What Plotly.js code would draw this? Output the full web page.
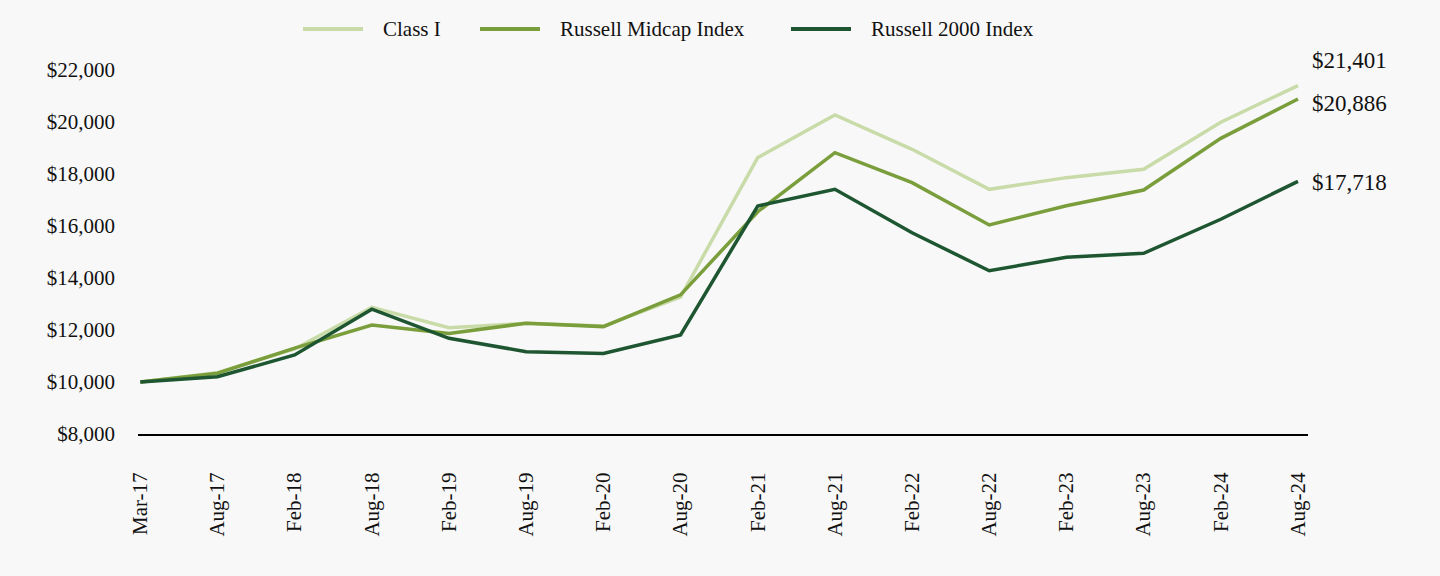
<!DOCTYPE html>
<html>
<head>
<meta charset="utf-8">
<script src="https://cdn.plot.ly/plotly-3.0.1.min.js"></script>
<style>html,body{margin:0;padding:0;background:#f8f8f8;}#chart{width:1440px;height:576px;}</style>
</head>
<body>
<div id="chart"></div>
<script>
const categories = ["Mar-17","Aug-17","Feb-18","Aug-18","Feb-19","Aug-19","Feb-20","Aug-20","Feb-21","Aug-21","Feb-22","Aug-22","Feb-23","Aug-23","Feb-24","Aug-24"];
const classI = [10000,10360,11270,12870,12090,12260,12150,13270,18630,20270,18950,17410,17860,18180,19990,21401];
const midcap = [10000,10340,11300,12190,11870,12260,12130,13350,16550,18820,17665,16040,16780,17385,19370,20886];
const r2000  = [10000,10200,11040,12800,11680,11165,11100,11810,16770,17410,15740,14280,14800,14950,16260,17718];
const seriesNames = ["Class I","Russell Midcap Index","Russell 2000 Index"];
const endLabels = ["$21,401","$20,886","$17,718"];
const colors = ["#c9dba8","#7a9e3b","#1e5631"];
const yTicks = [8000,10000,12000,14000,16000,18000,20000,22000];

const font = "Liberation Serif, Times New Roman, serif";
const allSeries = [classI, midcap, r2000];
const traces = allSeries.map((s,i)=>({
  type:"scatter", mode:"lines", x:categories, y:s, name:seriesNames[i],
  line:{color:colors[i], width:3.5}, hoverinfo:"skip", showlegend:false
}));
const yshifts = [25,-5,-1];
const annotations = allSeries.map((s,i)=>({
  x:categories[categories.length-1], y:s[s.length-1], xref:"x", yref:"y",
  text:endLabels[i], showarrow:false, xanchor:"left", yanchor:"middle",
  xshift:12, yshift:yshifts[i], font:{family:font, size:23, color:"#111"}
}));

// Manual legend (plot area: left 138px, width 1170px; top 70px, height 364px)
const L = 138, W = 1170, T = 70, H = 364;
const px = v => (v - L) / W;
const py = v => (T + H - v) / H;
const legendLineStart = [303, 480, 791];
const legendY = 29;
const shapes = [];
seriesNames.forEach((n,i)=>{
  shapes.push({type:"line", xref:"paper", yref:"paper",
    x0:px(legendLineStart[i]), x1:px(legendLineStart[i]+60), y0:py(legendY), y1:py(legendY),
    line:{color:colors[i], width:4}});
  annotations.push({xref:"paper", yref:"paper", x:px(legendLineStart[i]+78), y:py(legendY),
    text:n, showarrow:false, xanchor:"left", yanchor:"middle",
    font:{family:font, size:21, color:"#111"}});
});

const layout = {
  width:1440, height:576,
  paper_bgcolor:"#f8f8f8", plot_bgcolor:"#f8f8f8",
  margin:{l:L, r:1440-L-W, t:T, b:576-T-H},
  font:{family:font, color:"#111"},
  showlegend:false,
  xaxis:{type:"category", range:[-0.03,15.13], showgrid:false, zeroline:false,
    showline:true, linecolor:"#000", linewidth:2, ticks:"", tickangle:-90,
    tickfont:{family:font, size:21, color:"#111"}, ticklabelstandoff:28},
  yaxis:{range:[8000,22000], tickvals:yTicks, ticktext:yTicks.map(v=>"$"+v.toLocaleString("en-US")),
    showgrid:false, zeroline:false, showline:false, ticks:"",
    tickfont:{family:font, size:21, color:"#111"}, ticklabelstandoff:22},
  annotations:annotations,
  shapes:shapes
};
Plotly.newPlot("chart", traces, layout, {displayModeBar:false, staticPlot:true});
</script>
</body>
</html>
